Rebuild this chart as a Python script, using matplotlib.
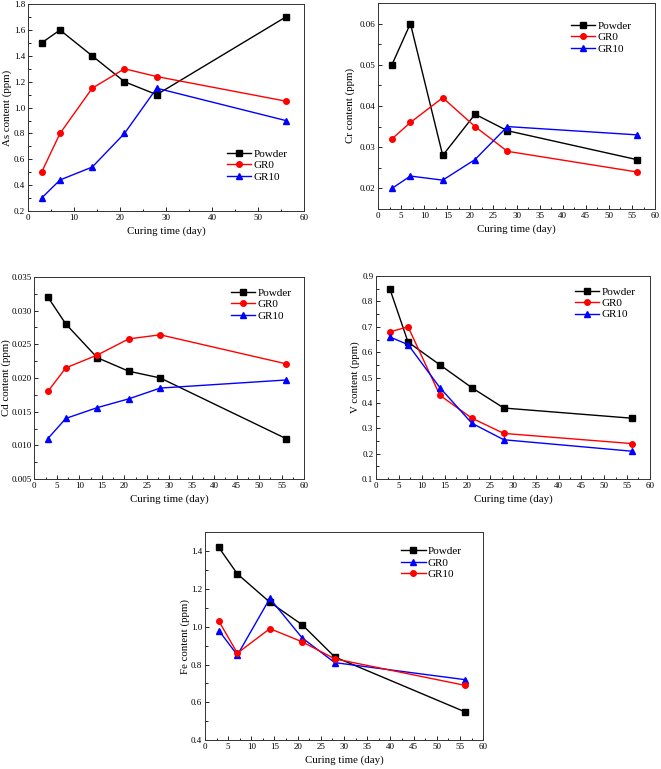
import matplotlib
matplotlib.use("Agg")
import matplotlib.pyplot as plt
from matplotlib.ticker import MultipleLocator, FormatStrFormatter

plt.rcParams['font.family'] = ['Liberation Serif', 'DejaVu Serif']

days = [3, 7, 14, 21, 28, 56]

as_powder = [1.5, 1.6, 1.4, 1.2, 1.1, 1.7]
as_gr0 = [0.5, 0.8, 1.15, 1.3, 1.24, 1.05]
as_gr10 = [0.3, 0.44, 0.54, 0.8, 1.15, 0.9]

cr_powder = [0.050, 0.060, 0.028, 0.038, 0.034, 0.027]
cr_gr0 = [0.032, 0.036, 0.042, 0.035, 0.029, 0.024]
cr_gr10 = [0.020, 0.023, 0.022, 0.027, 0.035, 0.033]

cd_powder = [0.032, 0.028, 0.023, 0.021, 0.020, 0.011]
cd_gr0 = [0.018, 0.0215, 0.0234, 0.0258, 0.0264, 0.0221]
cd_gr10 = [0.011, 0.014, 0.0156, 0.0169, 0.0185, 0.0197]

v_powder = [0.85, 0.64, 0.55, 0.46, 0.38, 0.34]
v_gr0 = [0.68, 0.70, 0.43, 0.34, 0.28, 0.24]
v_gr10 = [0.66, 0.63, 0.46, 0.32, 0.255, 0.21]

fe_powder = [1.42, 1.28, 1.13, 1.01, 0.84, 0.55]
fe_gr0 = [0.98, 0.85, 1.15, 0.94, 0.81, 0.72]
fe_gr10 = [1.03, 0.86, 0.99, 0.92, 0.83, 0.69]

fig = plt.figure(figsize=(6.61, 7.69), dpi=100)

def make(rect, series, ylabel, ylim, ymaj, yfmt, xmaj, leg_xy, ylab_x):
    ax = fig.add_axes(rect)
    for y, color, marker, label in series:
        ax.plot(days, y, color=color, marker=marker, markersize=4, lw=1.0, label=label)
    ax.set_xlim(0, 60)
    ax.set_ylim(*ylim)
    ax.xaxis.set_major_locator(MultipleLocator(xmaj))
    ax.xaxis.set_minor_locator(MultipleLocator(xmaj / 2))
    ax.yaxis.set_major_locator(MultipleLocator(ymaj))
    ax.yaxis.set_minor_locator(MultipleLocator(ymaj / 2))
    ax.yaxis.set_major_formatter(FormatStrFormatter(yfmt))
    ax.tick_params(which='both', direction='in', labelsize=6.5, width=0.6)
    ax.tick_params(which='major', length=3)
    ax.tick_params(which='minor', length=1.8)
    ax.tick_params(axis='both', pad=2)
    for s in ax.spines.values():
        s.set_linewidth(0.7)
        s.set_color('#333333')
    ax.set_xlabel('Curing time (day)', fontsize=7.8, labelpad=3)
    ax.set_ylabel(ylabel, fontsize=7.8)
    ax.yaxis.set_label_coords(ylab_x, 0.5)
    ax.legend(loc='upper left', bbox_to_anchor=leg_xy, frameon=False, fontsize=8,
              handlelength=2.2, handletextpad=0.2, labelspacing=0.15, borderpad=0,
              borderaxespad=0)
    return ax

K, R, B = 'black', '#ff0000', '#0000ff'

make([0.042, 0.7256, 0.418, 0.269],
     [(as_powder, K, 's', 'Powder'), (as_gr0, R, 'o', 'GR0'), (as_gr10, B, '^', 'GR10')],
     'As content (ppm)', (0.2, 1.8), 0.2, '%.1f', 10, (0.72, 0.30), -0.058)

make([0.572, 0.7282, 0.419, 0.268],
     [(cr_powder, K, 's', 'Powder'), (cr_gr0, R, 'o', 'GR0'), (cr_gr10, B, '^', 'GR10')],
     'Cr content (ppm)', (0.015, 0.065), 0.01, '%.2f', 5, (0.695, 0.913), -0.083)

make([0.052, 0.377, 0.408, 0.263],
     [(cd_powder, K, 's', 'Powder'), (cd_gr0, R, 'o', 'GR0'), (cd_gr10, B, '^', 'GR10')],
     'Cd content (ppm)', (0.005, 0.035), 0.005, '%.3f', 5, (0.728, 0.945), -0.085)

make([0.569, 0.377, 0.414, 0.264],
     [(v_powder, K, 's', 'Powder'), (v_gr0, R, 'o', 'GR0'), (v_gr10, B, '^', 'GR10')],
     'V content (ppm)', (0.1, 0.9), 0.1, '%.1f', 5, (0.727, 0.947), -0.058)

make([0.310, 0.0377, 0.421, 0.270],
     [(fe_powder, K, 's', 'Powder'), (fe_gr0, B, '^', 'GR0'), (fe_gr10, R, 'o', 'GR10')],
     'Fe content (ppm)', (0.4, 1.5), 0.2, '%.1f', 5, (0.705, 0.933), -0.054)

fig.savefig('out.png', dpi=100)
